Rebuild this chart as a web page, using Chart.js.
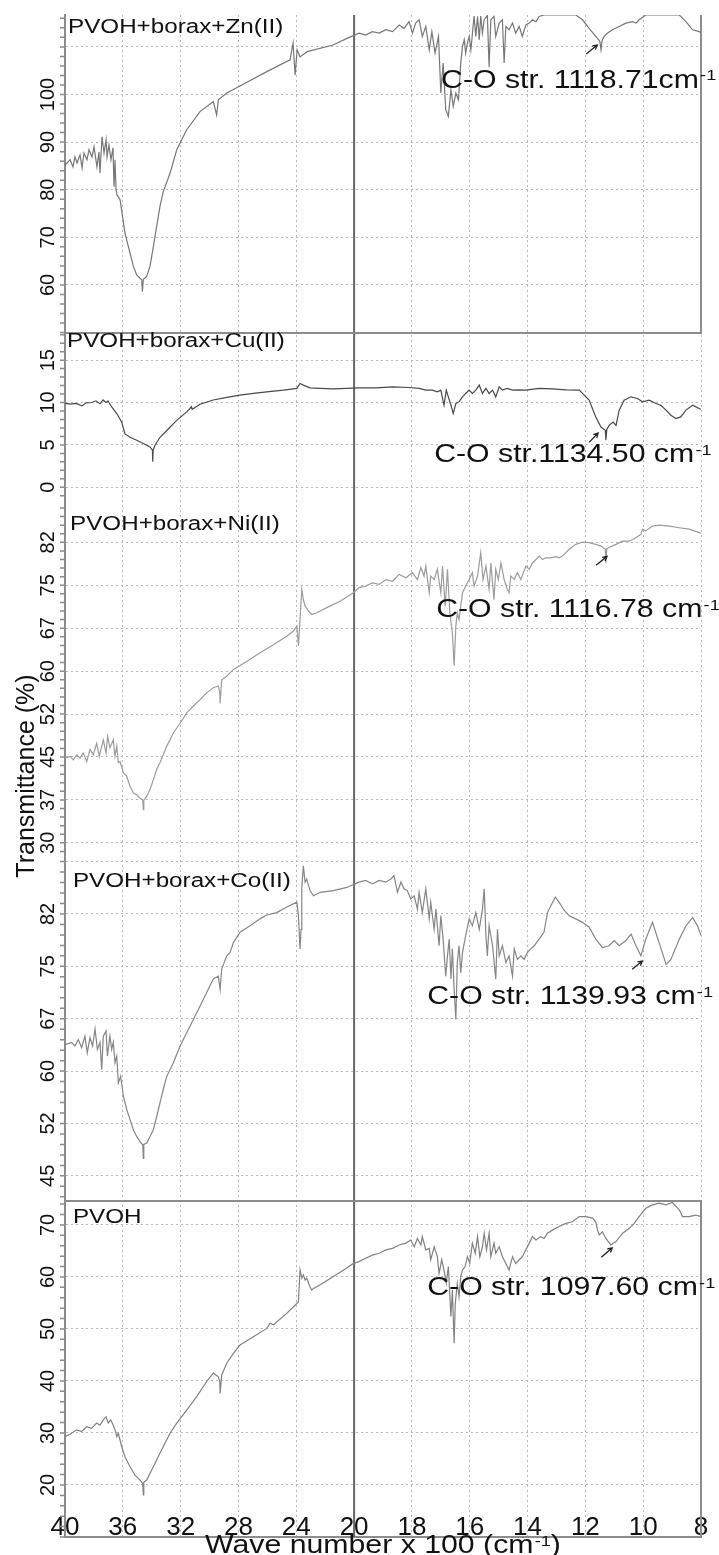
<!DOCTYPE html>
<html>
<head>
<meta charset="utf-8">
<title>FTIR spectra</title>
<script src="https://cdn.jsdelivr.net/npm/chart.js@4.4.1/dist/chart.umd.min.js"></script>
<style>
  html, body { margin: 0; padding: 0; background: #fff; }
  canvas { display: block; }
</style>
</head>
<body>
<canvas id="ftir" width="719" height="1555"></canvas>
<script>
// --- datos: [numero de onda (cm-1), transmitancia (%)] ---
const znData = [[4000,85.2],[3986,85.6],[3965,86.3],[3945,84.8],[3931,86.9],[3917,85.6],[3896,87.3],[3882,84.6],[3869,87.7],[3848,86.3],[3834,88.4],[3813,86.9],[3799,89.0],[3779,84.8],[3765,87.9],[3758,83.5],[3744,91.1],[3730,87.7],[3716,90.5],[3709,86.9],[3696,89.4],[3682,86.3],[3668,88.8],[3661,80.6],[3654,86.3],[3647,80.0],[3640,78.9],[3619,77.9],[3585,70.9],[3550,66.7],[3527,63.9],[3504,62.1],[3481,61.4],[3469,61.1],[3465,58.6],[3458,61.2],[3435,61.8],[3412,63.9],[3389,68.0],[3366,72.3],[3343,76.5],[3320,79.6],[3273,83.5],[3227,88.4],[3158,92.6],[3066,96.4],[2974,98.5],[2951,95.7],[2939,98.9],[2881,100.3],[2789,101.8],[2604,104.8],[2443,107.3],[2422,110.8],[2408,104.1],[2394,109.4],[2374,107.9],[2325,109.0],[2145,110.4],[2042,111.9],[1983,112.9],[1960,112.5],[1937,113.2],[1913,112.9],[1890,113.6],[1867,113.2],[1844,114.6],[1827,113.9],[1810,115.3],[1798,112.9],[1787,115.0],[1775,115.7],[1764,112.2],[1752,114.3],[1740,109.4],[1731,113.2],[1720,108.7],[1708,112.2],[1700,100.3],[1692,106.6],[1683,96.8],[1674,95.4],[1665,101.0],[1657,97.5],[1648,100.3],[1639,98.9],[1631,106.6],[1625,110.1],[1619,111.5],[1614,108.7],[1608,110.8],[1602,112.2],[1596,109.4],[1585,116.5],[1579,112.2],[1573,116.4],[1567,111.5],[1562,116.5],[1556,112.9],[1550,115.7],[1539,116.6],[1533,105.8],[1527,115.7],[1516,116.4],[1510,112.2],[1498,115.0],[1487,115.7],[1481,106.6],[1475,114.3],[1464,113.6],[1452,115.0],[1441,112.9],[1429,114.3],[1418,112.2],[1406,114.6],[1394,115.0],[1383,115.7],[1371,115.3],[1360,116.4],[1343,116.7],[1233,116.7],[1210,115.7],[1187,113.9],[1164,112.2],[1150,111.2],[1146,109.4],[1142,111.4],[1135,112.2],[1123,112.9],[1106,113.6],[1083,114.3],[1060,115.0],[1037,115.3],[1025,115.0],[1014,115.7],[991,116.7],[875,116.7],[852,115.3],[829,113.6],[806,113.2],[800,113.0]];

const cuData = [[4000,9.9],[3965,9.8],[3924,9.9],[3882,9.6],[3855,9.95],[3813,10.0],[3786,10.2],[3758,9.85],[3737,10.3],[3716,10.0],[3703,10.2],[3682,9.6],[3642,8.7],[3608,7.7],[3585,6.3],[3550,5.9],[3504,5.55],[3458,5.16],[3435,4.96],[3412,4.76],[3395,4.37],[3393,3.0],[3390,4.4],[3377,4.96],[3343,5.9],[3296,6.7],[3227,7.9],[3158,8.9],[3125,9.5],[3120,9.2],[3066,9.8],[2974,10.3],[2881,10.6],[2789,10.87],[2697,11.07],[2604,11.26],[2489,11.46],[2396,11.66],[2374,12.25],[2351,12.05],[2305,11.73],[2235,11.66],[2143,11.6],[1983,11.73],[1925,11.73],[1867,11.85],[1810,11.77],[1775,11.66],[1752,11.46],[1729,11.46],[1712,11.26],[1700,11.46],[1689,9.68],[1681,11.46],[1674,10.67],[1665,9.68],[1657,8.7],[1648,9.88],[1637,10.08],[1625,10.67],[1614,11.07],[1602,11.46],[1591,11.07],[1579,11.46],[1567,12.05],[1556,11.07],[1544,11.66],[1533,11.07],[1521,11.46],[1510,10.67],[1498,11.85],[1487,11.46],[1470,11.66],[1452,11.46],[1429,11.5],[1406,11.46],[1360,11.66],[1314,11.6],[1267,11.5],[1221,11.46],[1210,11.07],[1187,10.28],[1164,8.3],[1146,7.1],[1131,6.73],[1129,5.55],[1126,6.8],[1118,7.3],[1104,7.7],[1094,7.3],[1083,9.1],[1066,10.28],[1042,10.67],[1020,10.47],[1002,10.08],[979,10.28],[956,9.88],[939,9.68],[921,9.1],[904,8.5],[887,8.1],[870,8.3],[852,9.1],[829,9.68],[806,9.3],[800,9.2]];

const niData = [[4000,44.8],[3965,45.1],[3942,44.5],[3919,45.4],[3896,44.8],[3873,45.7],[3850,44.2],[3827,46.3],[3804,45.4],[3781,47.4],[3763,45.1],[3746,46.9],[3735,48.0],[3716,45.7],[3705,48.6],[3689,46.6],[3666,48.0],[3654,45.1],[3642,46.9],[3631,44.0],[3619,44.2],[3596,42.2],[3573,41.6],[3550,39.9],[3527,38.7],[3504,38.4],[3481,37.8],[3462,37.5],[3458,35.8],[3455,37.4],[3435,38.1],[3412,39.3],[3389,41.0],[3366,42.8],[3343,44.0],[3296,46.9],[3250,49.2],[3204,50.9],[3158,52.7],[3112,53.9],[3066,55.0],[3020,56.2],[2974,57.1],[2939,57.4],[2929,56.2],[2927,54.4],[2916,58.5],[2881,59.1],[2835,60.3],[2743,61.7],[2651,63.2],[2558,64.6],[2466,66.1],[2420,67.0],[2396,67.9],[2385,64.4],[2374,69.0],[2362,74.3],[2351,72.5],[2339,71.4],[2316,70.5],[2293,69.9],[2258,70.2],[2189,71.1],[2097,72.2],[2005,73.7],[1983,74.6],[1960,74.85],[1937,75.4],[1913,75.15],[1890,76.0],[1867,75.7],[1844,76.9],[1821,76.3],[1798,77.2],[1781,76.0],[1769,78.1],[1758,76.6],[1752,78.35],[1740,73.7],[1735,76.6],[1723,76.0],[1712,77.8],[1700,73.7],[1694,78.35],[1685,71.35],[1677,77.8],[1669,70.2],[1660,66.7],[1654,61.0],[1648,67.9],[1643,70.2],[1637,69.0],[1625,73.7],[1614,74.85],[1602,76.0],[1591,77.2],[1585,74.85],[1573,76.6],[1562,80.7],[1554,76.0],[1544,78.35],[1533,74.3],[1527,78.9],[1516,72.5],[1510,77.8],[1501,76.0],[1492,78.9],[1481,76.0],[1470,74.3],[1464,73.7],[1458,76.6],[1446,76.0],[1435,77.2],[1423,76.0],[1406,78.35],[1394,77.8],[1383,78.9],[1371,79.5],[1360,80.1],[1348,79.5],[1337,79.8],[1319,79.8],[1302,80.0],[1291,79.8],[1279,80.1],[1256,81.3],[1233,82.15],[1210,82.55],[1187,82.45],[1164,82.15],[1146,81.85],[1131,81.3],[1129,78.9],[1126,81.4],[1118,81.6],[1094,82.15],[1072,82.7],[1048,82.7],[1025,83.3],[1008,83.9],[1002,84.8],[991,84.5],[968,85.35],[945,85.5],[910,85.35],[875,85.05],[841,84.8],[806,84.2],[800,84.1]];

const coData = [[4000,63.8],[3954,64.1],[3931,63.6],[3908,64.5],[3885,63.35],[3862,65.0],[3846,62.6],[3827,64.8],[3809,63.6],[3792,66.0],[3776,63.1],[3758,64.1],[3746,60.2],[3735,65.0],[3716,65.75],[3707,62.15],[3689,65.0],[3677,63.1],[3666,64.1],[3654,61.2],[3642,62.15],[3631,58.3],[3615,59.25],[3596,56.4],[3573,54.5],[3550,53.05],[3527,51.6],[3504,50.65],[3481,49.9],[3462,49.45],[3458,47.5],[3455,49.5],[3435,49.7],[3412,50.65],[3389,51.6],[3366,53.5],[3343,55.45],[3320,57.4],[3296,59.25],[3250,61.2],[3204,63.6],[3158,65.5],[3112,67.4],[3066,69.3],[3020,71.25],[2974,73.2],[2939,73.6],[2927,71.7],[2916,74.6],[2881,76.5],[2858,77.0],[2835,78.4],[2789,79.9],[2720,80.8],[2651,81.8],[2604,82.35],[2535,82.7],[2466,83.5],[2396,84.2],[2385,82.25],[2374,77.5],[2367,80.3],[2362,86.1],[2351,89.4],[2339,87.05],[2328,87.5],[2305,85.85],[2281,85.1],[2235,85.6],[2143,85.85],[2051,86.3],[1983,87.05],[1960,87.3],[1937,86.8],[1913,87.3],[1890,87.05],[1873,87.5],[1862,88.0],[1850,85.6],[1838,87.05],[1827,86.1],[1816,85.85],[1804,84.65],[1792,85.1],[1781,83.2],[1775,85.6],[1764,82.7],[1752,86.1],[1740,81.8],[1735,84.2],[1723,80.3],[1717,83.2],[1706,77.95],[1700,82.25],[1692,78.9],[1683,73.6],[1677,76.5],[1671,78.9],[1665,73.2],[1660,77.5],[1654,71.7],[1648,67.4],[1643,75.55],[1637,77.95],[1631,74.1],[1625,77.0],[1614,79.4],[1602,81.8],[1591,80.8],[1579,82.7],[1567,80.3],[1556,83.2],[1550,86.1],[1544,79.4],[1539,76.5],[1533,80.8],[1521,77.95],[1510,73.2],[1504,80.3],[1498,76.5],[1487,77.95],[1475,75.55],[1464,76.5],[1452,73.6],[1446,77.5],[1435,76.0],[1423,76.5],[1412,76.0],[1400,77.0],[1389,77.5],[1377,77.95],[1360,78.9],[1343,79.9],[1331,82.7],[1319,83.7],[1304,84.9],[1291,84.2],[1273,83.0],[1256,82.25],[1233,81.8],[1210,81.3],[1187,80.6],[1164,78.9],[1141,77.7],[1118,77.95],[1100,78.7],[1083,77.95],[1060,78.7],[1042,79.6],[1025,77.95],[1008,76.5],[991,78.9],[968,81.3],[945,78.4],[921,75.3],[904,76.0],[875,78.9],[852,80.8],[829,82.0],[812,80.8],[800,79.4]];

const pvohData = [[4000,29.3],[3954,29.95],[3919,30.6],[3885,30.25],[3850,31.2],[3816,30.9],[3781,31.9],[3758,31.5],[3735,32.5],[3716,33.1],[3700,31.9],[3684,32.5],[3666,31.5],[3654,30.6],[3642,29.3],[3631,29.95],[3608,27.4],[3585,25.4],[3550,23.5],[3516,21.9],[3481,20.95],[3462,20.3],[3458,18.1],[3455,20.5],[3435,20.95],[3400,22.9],[3366,24.8],[3320,27.4],[3273,29.95],[3227,31.9],[3158,34.4],[3089,37.0],[3020,39.9],[2974,41.5],[2939,40.8],[2929,39.9],[2927,37.6],[2916,41.15],[2881,43.4],[2835,45.3],[2789,46.9],[2697,48.5],[2604,50.1],[2581,51.1],[2558,50.8],[2466,53.0],[2396,54.9],[2385,55.25],[2374,61.35],[2362,59.75],[2351,60.4],[2339,59.4],[2328,59.75],[2305,58.1],[2293,57.5],[2281,57.8],[2235,58.5],[2143,60.1],[2051,61.7],[2005,62.6],[1983,62.95],[1960,63.6],[1937,64.2],[1913,64.55],[1890,65.2],[1867,65.5],[1844,66.15],[1821,66.5],[1804,67.1],[1792,65.8],[1781,67.4],[1769,66.15],[1764,67.75],[1752,65.2],[1740,65.5],[1735,63.3],[1723,65.8],[1712,63.9],[1706,60.7],[1697,63.3],[1689,61.35],[1681,58.8],[1674,62.0],[1665,52.4],[1660,57.5],[1654,47.25],[1650,54.9],[1643,58.8],[1637,56.2],[1631,60.1],[1625,61.35],[1616,62.0],[1608,63.9],[1600,62.6],[1591,66.5],[1581,64.55],[1573,67.75],[1565,63.9],[1556,65.8],[1550,68.4],[1542,65.2],[1533,68.4],[1527,63.9],[1516,66.5],[1510,64.55],[1498,65.8],[1487,63.9],[1475,62.6],[1464,61.35],[1452,63.9],[1441,62.6],[1429,63.3],[1418,63.9],[1406,65.2],[1394,66.5],[1383,67.75],[1371,67.1],[1354,67.75],[1343,67.4],[1331,68.4],[1314,69.0],[1291,69.7],[1267,70.3],[1245,70.6],[1221,71.6],[1198,71.6],[1175,71.3],[1164,70.6],[1158,69.0],[1152,68.1],[1141,68.7],[1129,67.4],[1112,66.15],[1094,66.8],[1071,68.4],[1048,69.35],[1031,70.3],[1014,71.6],[991,73.2],[968,73.85],[945,74.2],[921,73.85],[899,74.3],[875,72.9],[864,71.6],[841,71.6],[818,71.9],[800,71.6]];

const xTickLabels = [40, 36, 32, 28, 24, 20, 18, 16, 14, 12, 10, 8];
const sampleNames = ['PVOH+borax+Zn(II)', 'PVOH+borax+Cu(II)', 'PVOH+borax+Ni(II)', 'PVOH+borax+Co(II)', 'PVOH'];
const peakNotes = ['C-O str. 1118.71cm', 'C-O str.1134.50 cm', 'C-O str. 1116.78 cm', 'C-O str. 1139.93 cm', 'C-O str. 1097.60 cm'];

// el eje cambia de escala en 2000 cm-1 (de 400 en 400 arriba, de 200 en 200 abajo)
function axisPos(wn) {
    return wn >= 2000 ? (4000 - wn) / 400 : 5 + (2000 - wn) / 200;
}

const FONT = '"Liberation Sans", Arial, sans-serif';
const STRETCH = 1.21; // el texto del original esta ensanchado

// un panel por muestra, de arriba abajo; name/note/tail/tip en unidades de datos
const panels = [
    { id: 'yZn', data: znData, min: 49.9, max: 116.7, step: 10, share: 318, blank: [50, 110], pad: 0, color: '#777',
      name: [3979, 112.9], note: [1699, 101.4], tail: [1197, 108.5], tip: [1159, 110.4] },
    { id: 'yCu', data: cuData, min: -1.5, max: 18.2, step: 5, share: 167, blank: [], pad: 5, color: '#4a4a4a',
      name: [3986, 16.5], note: [1723, 2.95], tail: [1187, 5.3], tip: [1156, 6.4] },
    { id: 'yNi', data: niData, min: 27.7, max: 89.9, step: 7.5, share: 356, blank: [], pad: 5, color: '#9c9c9c',
      name: [3965, 84.6], note: [1716, 69.4], tail: [1163, 78.5], tip: [1125, 80.05] },
    { id: 'yCo', data: coData, min: 41.4, max: 90.8, step: 7.5, share: 345, blank: [90], pad: 5, color: '#868686',
      name: [3945, 86.4], note: [1747, 69.6], tail: [1038, 74.6], tip: [1003, 75.75] },
    { id: 'yPVOH', data: pvohData, min: 10, max: 74.6, step: 10, share: 336, blank: [10], pad: 5, color: '#828282',
      name: [3945, 70.4], note: [1747, 56.5], tail: [1145, 63.8], tip: [1107, 65.6] }
];

function wideText(ctx, parts, x, y, size, align) {
    // parts: [texto normal, superindice, texto normal]
    ctx.save();
    ctx.font = size + 'px ' + FONT;
    const supSize = Math.round(size * 0.6);
    const w0 = ctx.measureText(parts[0]).width;
    let total = w0;
    if (parts[1]) {
        ctx.font = supSize + 'px ' + FONT;
        total += ctx.measureText(parts[1]).width + 1;
        ctx.font = size + 'px ' + FONT;
        if (parts[2]) total += ctx.measureText(parts[2]).width;
    }
    ctx.translate(x, y);
    ctx.scale(STRETCH, 1);
    let cx = align === 'center' ? -total / 2 : 0;
    ctx.textBaseline = 'alphabetic';
    ctx.textAlign = 'left';
    ctx.fillText(parts[0], cx, 0);
    cx += w0;
    if (parts[1]) {
        ctx.font = supSize + 'px ' + FONT;
        ctx.fillText(parts[1], cx + 1, -size * 0.3);
        cx += ctx.measureText(parts[1]).width + 1;
        if (parts[2]) {
            ctx.font = size + 'px ' + FONT;
            ctx.fillText(parts[2], cx, 0);
        }
    }
    ctx.restore();
}

function arrow(ctx, x0, y0, x1, y1) {
    const a = Math.atan2(y1 - y0, x1 - x0);
    ctx.beginPath();
    ctx.moveTo(x0, y0);
    ctx.lineTo(x1, y1);
    ctx.moveTo(x1 - 5 * Math.cos(a - 0.5), y1 - 5 * Math.sin(a - 0.5));
    ctx.lineTo(x1, y1);
    ctx.lineTo(x1 - 5 * Math.cos(a + 0.5), y1 - 5 * Math.sin(a + 0.5));
    ctx.stroke();
}

const decor = {
    id: 'decor',
    beforeDatasetsDraw(chart) {
        const { ctx, chartArea, scales } = chart;
        const xs = scales.x;
        ctx.save();
        // linea gruesa en 2000 cm-1
        const p20 = xs.getPixelForValue(axisPos(2000));
        ctx.strokeStyle = '#666';
        ctx.lineWidth = 2;
        ctx.beginPath();
        ctx.moveTo(p20, chartArea.top);
        ctx.lineTo(p20, chartArea.bottom);
        ctx.stroke();

        // marco del primer y del ultimo panel
        const top = scales.yZn, last = scales.yPVOH;
        ctx.strokeStyle = '#8c8c8c';
        ctx.beginPath();
        ctx.moveTo(chartArea.right, top.top);
        ctx.lineTo(chartArea.right, top.bottom);
        ctx.lineTo(chartArea.left, top.bottom);
        ctx.moveTo(chartArea.left, last.top);
        ctx.lineTo(chartArea.right, last.top);
        ctx.lineTo(chartArea.right, last.bottom);
        ctx.stroke();

        // marcas menores del eje y
        ctx.lineWidth = 1.5;
        ctx.beginPath();
        panels.forEach(p => {
            const s = scales[p.id];
            const minor = p.step / 5;
            for (let k = Math.ceil(s.min / minor); k * minor <= s.max; k++) {
                const py = s.getPixelForValue(k * minor);
                ctx.moveTo(s.right - 5, py);
                ctx.lineTo(s.right, py);
            }
        });
        ctx.stroke();
        ctx.restore();
    },
    afterDatasetsDraw(chart) {
        const { ctx, chartArea, scales } = chart;
        const xs = scales.x;
        ctx.save();
        ctx.fillStyle = '#111';
        ctx.strokeStyle = '#222';
        ctx.lineWidth = 1.3;
        panels.forEach((p, i) => {
            const s = scales[p.id];
            wideText(ctx, [sampleNames[i]], xs.getPixelForValue(axisPos(p.name[0])), s.getPixelForValue(p.name[1]), 20);
            wideText(ctx, [peakNotes[i], '-1'], xs.getPixelForValue(axisPos(p.note[0])), s.getPixelForValue(p.note[1]), 25);
            arrow(ctx,
                xs.getPixelForValue(axisPos(p.tail[0])), s.getPixelForValue(p.tail[1]),
                xs.getPixelForValue(axisPos(p.tip[0])), s.getPixelForValue(p.tip[1]));
        });

        // titulos de los ejes
        wideText(ctx, ['Wave number x 100 (cm', '-1', ')'], (chartArea.left + chartArea.right) / 2, chartArea.bottom + 16, 25, 'center');
        ctx.translate(chartArea.left - 38, (chartArea.top + chartArea.bottom) / 2);
        ctx.rotate(-Math.PI / 2);
        ctx.font = '25px ' + FONT;
        ctx.textAlign = 'center';
        ctx.textBaseline = 'middle';
        ctx.fillText('Transmittance (%)', 0, 0);
        ctx.restore();
    }
};

const scales = {
    x: {
        type: 'linear',
        position: 'bottom',
        min: 0,
        max: xTickLabels.length - 1,
        grid: { color: '#b8b8b8', lineWidth: 1, drawTicks: false },
        border: { color: '#8c8c8c', width: 2, dash: [2, 3] },
        ticks: {
            stepSize: 1,
            autoSkip: false,
            maxRotation: 0,
            mirror: true,   // etiquetas dentro del area, sobre el eje
            padding: -6,
            color: '#111',
            font: { family: FONT, size: 26 },
            callback: v => xTickLabels[Math.round(v)]
        },
        afterFit(s) { s.height = 18; s.paddingLeft = 0; s.paddingRight = 0; }
    }
};

panels.forEach((p, i) => {
    scales[p.id] = {
        type: 'linear',
        position: 'left',
        stack: 'spectra',
        stackWeight: p.share,
        weight: panels.length - i,
        min: p.min,
        max: p.max,
        grid: { color: '#b8b8b8', lineWidth: 1, drawTicks: false },
        border: { color: '#8c8c8c', width: 2, dash: [2, 3] },
        ticks: {
            stepSize: p.step,
            includeBounds: false,
            autoSkip: false,
            minRotation: 90,
            maxRotation: 90,
            crossAlign: 'center',
            padding: p.pad,
            color: '#111',
            font: { family: FONT, size: 20 },
            callback: v => p.blank.includes(v) ? '' : String(Math.floor(v))
        },
        afterFit(s) { s.width = 65; s.paddingTop = 0; s.paddingBottom = 0; }
    };
});

new Chart(document.getElementById('ftir'), {
    type: 'line',
    data: {
        datasets: panels.map((p, i) => ({
            label: sampleNames[i],
            data: p.data.map(([w, t]) => ({ x: axisPos(w), y: t })),
            xAxisID: 'x',
            yAxisID: p.id,
            borderColor: p.color,
            borderWidth: 1.2,
            pointRadius: 0,
            tension: 0,
            fill: false
        }))
    },
    options: {
        responsive: false,
        animation: false,
        devicePixelRatio: 1,
        layout: { padding: { top: 15, right: 18, bottom: 0, left: 0 } },
        plugins: { legend: { display: false }, tooltip: { enabled: false } },
        scales: scales
    },
    plugins: [decor]
});
</script>
</body>
</html>
